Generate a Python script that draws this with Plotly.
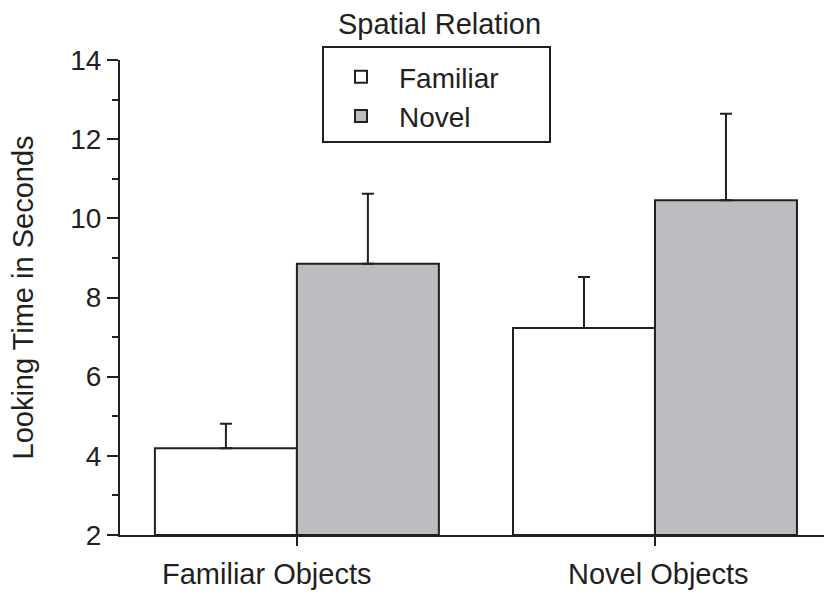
import plotly.graph_objects as go

categories = ["Familiar Objects", "Novel Objects"]
series_names = ["Familiar", "Novel"]
familiar_vals = [4.19, 7.23]
novel_vals = [8.85, 10.46]
familiar_err = [0.62, 1.29]
novel_err = [1.77, 2.18]
y_ticks = [2, 4, 6, 8, 10, 12, 14]
label_shift = [-30, 4]

INK = "#231f20"
GRAY = "#bcbdc1"
FONT = "Liberation Sans, Arial, sans-serif"
FS = 29
TFS = 28

W, H = 824, 595
L, R, T, B = 120, 0, 60, 60
pw, ph = W - L - R, H - T - B

def px_x(x):
    return (x - L) / pw

def px_y(y):
    return (H - B - y) / ph

fig = go.Figure()
for name, vals, errs, fill in [
    (series_names[0], familiar_vals, familiar_err, "white"),
    (series_names[1], novel_vals, novel_err, GRAY),
]:
    fig.add_trace(go.Bar(
        name=name, x=categories, y=[v - 2 for v in vals], base=2,
        marker=dict(color=fill, line=dict(color=INK, width=2)),
        error_y=dict(type="data", array=errs, arrayminus=[0] * len(errs),
                     symmetric=False, color=INK, thickness=2, width=6),
        hoverinfo="skip",
    ))

fig.update_layout(
    width=W, height=H,
    margin=dict(l=L, r=R, t=T, b=B),
    paper_bgcolor="white", plot_bgcolor="white",
    font=dict(family=FONT, size=FS, color=INK),
    barmode="group", bargap=0.207, bargroupgap=0,
    showlegend=True,
    legend=dict(x=px_x(323), y=px_y(52), xanchor="left", yanchor="top",
                bgcolor="rgba(0,0,0,0)", borderwidth=0, itemwidth=66,
                font=dict(size=FS - 1), traceorder="normal"),
    xaxis=dict(type="category", range=[-0.494, 1.472], showline=True,
               linecolor=INK, linewidth=2, ticks="outside", ticklen=9,
               tickwidth=2, tickcolor=INK, showticklabels=False,
               showgrid=False, zeroline=False, fixedrange=True),
    yaxis=dict(range=[2, 14], tickvals=y_ticks, showline=True,
               linecolor=INK, linewidth=2, ticks="outside", ticklen=11,
               tickwidth=2, tickcolor=INK, showgrid=False, zeroline=False,
               tickfont=dict(size=TFS),
               minor=dict(dtick=2, tick0=3, ticks="outside", ticklen=6,
                          tickwidth=2, tickcolor=INK, showgrid=False),
               title=dict(text="Looking Time in Seconds", standoff=28,
                          font=dict(size=FS)),
               fixedrange=True),
    shapes=[dict(type="rect", xref="paper", yref="paper",
                 x0=px_x(323), x1=px_x(550), y0=px_y(142), y1=px_y(47),
                 line=dict(color=INK, width=2), fillcolor="rgba(0,0,0,0)")],
)

annotations = [dict(text="Spatial Relation", xref="paper", yref="paper",
                    x=px_x(439), y=px_y(24), xanchor="center", yanchor="middle",
                    showarrow=False, font=dict(size=FS))]
for cat, sh in zip(categories, label_shift):
    annotations.append(dict(text=cat, x=cat, xref="x", yref="paper",
                            y=px_y(574), xanchor="center", yanchor="middle",
                            xshift=sh, showarrow=False, font=dict(size=FS)))
fig.update_layout(annotations=annotations)

fig.write_html("out.html", config={"displayModeBar": False},
               post_script="document.body.style.margin='0';")
